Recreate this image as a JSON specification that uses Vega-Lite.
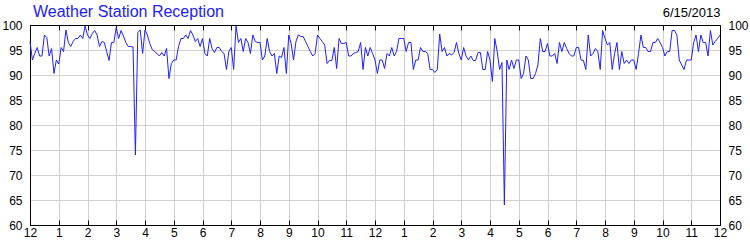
{
  "$schema": "https://vega.github.io/schema/vega-lite/v6.json",
  "width": 690,
  "height": 200,
  "autosize": {"type": "none"},
  "padding": {"left": 30, "top": 25, "right": 30, "bottom": 25},
  "background": "white",
  "config": {
    "view": {"stroke": "#000", "strokeWidth": 1},
    "axis": {"labelFont": "Liberation Sans", "labelFontSize": 12, "labelColor": "#000", "titleFont": "Liberation Sans", "domainColor": "#000", "tickColor": "#000", "gridColor": "#d0d0d0", "gridOpacity": 1}
  },
  "title": {"text": "Weather Station Reception", "anchor": "start", "frame": "group", "color": "#2020ff", "font": "Liberation Sans", "fontSize": 16, "fontWeight": "normal", "baseline": "alphabetic", "offset": 0, "dx": 3, "dy": 26},
  "data": {"values": [
{"m":0,"v":96.7},{"m":5,"v":93},{"m":10,"v":94.3},{"m":15,"v":95.5},{"m":20,"v":93.8},{"m":25,"v":93.8},{"m":30,"v":98},{"m":35,"v":97.5},{"m":40,"v":93.8},{"m":45,"v":95.3},{"m":50,"v":90.3},{"m":55,"v":93},{"m":60,"v":92.2},{"m":65,"v":95.5},{"m":70,"v":94.7},{"m":75,"v":99},{"m":80,"v":96.5},{"m":85,"v":95.7},{"m":90,"v":96.7},{"m":95,"v":97.3},{"m":100,"v":97.3},{"m":105,"v":98},{"m":110,"v":97.3},{"m":115,"v":99.8},{"m":120,"v":98},{"m":125,"v":97.3},{"m":130,"v":98.3},{"m":135,"v":98.9},{"m":140,"v":98},{"m":145,"v":95.7},{"m":150,"v":96.7},{"m":155,"v":96.5},{"m":160,"v":94.7},{"m":165,"v":92.9},{"m":170,"v":96.5},{"m":175,"v":96.5},{"m":180,"v":99.5},{"m":185,"v":97.3},{"m":190,"v":98.9},{"m":195,"v":97.8},{"m":200,"v":96.5},{"m":205,"v":95.7},{"m":210,"v":95.7},{"m":215,"v":95.6},{"m":220,"v":74},{"m":225,"v":98.5},{"m":230,"v":99},{"m":235,"v":94.3},{"m":240,"v":99},{"m":245,"v":98},{"m":250,"v":96.3},{"m":255,"v":95.1},{"m":260,"v":94.7},{"m":265,"v":94.3},{"m":270,"v":93.8},{"m":275,"v":94.5},{"m":280,"v":93.8},{"m":285,"v":95.3},{"m":290,"v":89.3},{"m":295,"v":92.3},{"m":300,"v":93},{"m":305,"v":93},{"m":310,"v":95.7},{"m":315,"v":97.3},{"m":320,"v":97.3},{"m":325,"v":98},{"m":330,"v":97.3},{"m":335,"v":98.9},{"m":340,"v":98},{"m":345,"v":96.7},{"m":350,"v":97.3},{"m":355,"v":95.7},{"m":360,"v":97.3},
{"m":365,"v":94.3},{"m":370,"v":93.8},{"m":375,"v":97.3},{"m":380,"v":95.3},{"m":385,"v":94.5},{"m":390,"v":95.5},{"m":395,"v":95.5},{"m":400,"v":94.7},{"m":405,"v":94.3},{"m":410,"v":91.1},{"m":415,"v":94.7},{"m":420,"v":95.5},{"m":425,"v":91.1},{"m":430,"v":99.8},{"m":435,"v":96.5},{"m":440,"v":97.3},{"m":445,"v":94.7},{"m":450,"v":97.3},{"m":455,"v":96.5},{"m":460,"v":94.3},{"m":465,"v":98},{"m":470,"v":96.7},{"m":475,"v":96.5},{"m":480,"v":96.5},{"m":485,"v":93},{"m":490,"v":93.8},{"m":495,"v":97.3},{"m":500,"v":94.7},{"m":505,"v":93.8},{"m":510,"v":94.3},{"m":515,"v":90.3},{"m":520,"v":93.8},{"m":525,"v":93.5},{"m":530,"v":95.5},{"m":535,"v":90.3},{"m":540,"v":98},{"m":545,"v":96.3},{"m":550,"v":93},{"m":555,"v":96.7},{"m":560,"v":98},{"m":565,"v":97.7},{"m":570,"v":97.7},{"m":575,"v":96.7},{"m":580,"v":95.7},{"m":585,"v":94.7},{"m":590,"v":93.8},{"m":595,"v":94.3},{"m":600,"v":98},{"m":605,"v":97.3},{"m":610,"v":96.7},{"m":615,"v":96},{"m":620,"v":92.3},{"m":625,"v":92.9},{"m":630,"v":92.9},{"m":635,"v":95.5},{"m":640,"v":91.3},{"m":645,"v":97.3},{"m":650,"v":96.3},{"m":655,"v":96.3},{"m":660,"v":96.5},{"m":665,"v":93.8},{"m":670,"v":93.8},{"m":675,"v":94.3},{"m":680,"v":94.5},{"m":685,"v":94.7},{"m":690,"v":96.5},{"m":695,"v":91.1},{"m":700,"v":95.5},{"m":705,"v":93.8},{"m":710,"v":95.5},{"m":715,"v":94.3},{"m":720,"v":93},
{"m":725,"v":90.3},{"m":730,"v":93},{"m":735,"v":93},{"m":740,"v":91.3},{"m":745,"v":94.3},{"m":750,"v":93.8},{"m":755,"v":95.5},{"m":760,"v":93.8},{"m":765,"v":94.7},{"m":770,"v":97.3},{"m":775,"v":97.3},{"m":780,"v":97.3},{"m":785,"v":94.7},{"m":790,"v":96.5},{"m":795,"v":96.5},{"m":800,"v":91.1},{"m":805,"v":93},{"m":810,"v":93},{"m":815,"v":95.5},{"m":820,"v":94.7},{"m":825,"v":94.7},{"m":830,"v":94.3},{"m":835,"v":91.1},{"m":840,"v":91.1},{"m":845,"v":90.5},{"m":850,"v":91.1},{"m":855,"v":98.2},{"m":860,"v":94.7},{"m":865,"v":95.5},{"m":870,"v":93.8},{"m":875,"v":94.3},{"m":880,"v":94},{"m":885,"v":94.5},{"m":890,"v":96.5},{"m":895,"v":94.3},{"m":900,"v":93},{"m":905,"v":95.5},{"m":910,"v":93.8},{"m":915,"v":93},{"m":920,"v":93.8},{"m":925,"v":92.9},{"m":930,"v":92.9},{"m":935,"v":94.5},{"m":940,"v":94.5},{"m":945,"v":91.1},{"m":950,"v":91.1},{"m":955,"v":94.7},{"m":960,"v":93},{"m":965,"v":88.7},{"m":970,"v":97.3},{"m":975,"v":94.7},{"m":980,"v":91.1},{"m":985,"v":92.5},{"m":990,"v":64},{"m":995,"v":93},{"m":1000,"v":91.1},{"m":1005,"v":93},{"m":1010,"v":91.3},{"m":1015,"v":93},{"m":1020,"v":93},{"m":1025,"v":89.3},{"m":1030,"v":90.3},{"m":1035,"v":93.8},{"m":1040,"v":93},{"m":1045,"v":89.3},{"m":1050,"v":89.3},{"m":1055,"v":90.3},{"m":1060,"v":92},{"m":1065,"v":97.3},{"m":1070,"v":94.7},{"m":1075,"v":94.7},{"m":1080,"v":96.3},
{"m":1085,"v":93.8},{"m":1090,"v":93.8},{"m":1095,"v":94.3},{"m":1100,"v":92.3},{"m":1105,"v":96.5},{"m":1110,"v":94.7},{"m":1115,"v":96.5},{"m":1120,"v":95.3},{"m":1125,"v":94.3},{"m":1130,"v":93.8},{"m":1135,"v":93.8},{"m":1140,"v":95.5},{"m":1145,"v":95.5},{"m":1150,"v":93},{"m":1155,"v":92.9},{"m":1160,"v":91.1},{"m":1165,"v":98},{"m":1170,"v":93.8},{"m":1175,"v":94.3},{"m":1180,"v":95.3},{"m":1185,"v":94.7},{"m":1190,"v":91.1},{"m":1195,"v":98.9},{"m":1200,"v":97.3},{"m":1205,"v":96},{"m":1210,"v":96.5},{"m":1215,"v":91.1},{"m":1220,"v":94.3},{"m":1225,"v":96.5},{"m":1230,"v":91.1},{"m":1235,"v":94.7},{"m":1240,"v":92.3},{"m":1245,"v":93},{"m":1250,"v":92.3},{"m":1255,"v":93},{"m":1260,"v":93},{"m":1265,"v":91.1},{"m":1270,"v":94.3},{"m":1275,"v":98},{"m":1280,"v":95.5},{"m":1285,"v":95.5},{"m":1290,"v":94.7},{"m":1295,"v":94.7},{"m":1300,"v":96.5},{"m":1305,"v":96.5},{"m":1310,"v":97.3},{"m":1315,"v":96.5},{"m":1320,"v":95.5},{"m":1325,"v":93.8},{"m":1330,"v":94.7},{"m":1335,"v":94.7},{"m":1340,"v":98.9},{"m":1345,"v":98.9},{"m":1350,"v":98},{"m":1355,"v":93},{"m":1360,"v":92},{"m":1365,"v":91.1},{"m":1370,"v":93},{"m":1375,"v":93},{"m":1380,"v":93},{"m":1385,"v":96.5},{"m":1390,"v":98},{"m":1395,"v":94.7},{"m":1400,"v":98},{"m":1405,"v":96.5},{"m":1410,"v":96.5},{"m":1415,"v":93.8},{"m":1420,"v":98.9},{"m":1425,"v":96},{"m":1430,"v":96.7},{"m":1435,"v":97.3},{"m":1440,"v":98}
  ]},
  "layer": [
    {
      "mark": {"type": "line", "color": "#2020ff", "strokeWidth": 1},
      "encoding": {
        "x": {"field": "m", "type": "quantitative", "scale": {"domain": [0, 1440], "nice": false, "zero": false},
          "axis": {"orient": "bottom", "title": null, "values": [0,60,120,180,240,300,360,420,480,540,600,660,720,780,840,900,960,1020,1080,1140,1200,1260,1320,1380,1440],
            "labelExpr": "datum.value % 720 == 0 ? '12' : format((datum.value / 60) % 12, 'd')",
            "grid": true, "ticks": true, "tickSize": -5, "labelPadding": 7, "labelFlush": false, "labelOverlap": false}},
        "y": {"field": "v", "type": "quantitative", "scale": {"domain": [60, 100], "nice": false, "zero": false},
          "axis": {"orient": "left", "title": null, "values": [60,65,70,75,80,85,90,95,100], "grid": true, "ticks": false, "tickSize": 0, "labelPadding": 8, "labelFlush": false, "labelOverlap": false}}
      }
    },
    {
      "mark": {"type": "line", "color": "#2020ff", "strokeWidth": 1, "opacity": 0},
      "encoding": {
        "x": {"field": "m", "type": "quantitative", "scale": {"domain": [0, 1440], "nice": false, "zero": false},
          "axis": {"orient": "top", "title": "6/15/2013", "titleAnchor": "end", "titleAlign": "right", "titleBaseline": "alphabetic", "titleFontSize": 13, "titleFontWeight": "normal", "titleColor": "#000", "titlePadding": 8,
            "values": [0,60,120,180,240,300,360,420,480,540,600,660,720,780,840,900,960,1020,1080,1140,1200,1260,1320,1380,1440],
            "labels": false, "grid": false, "ticks": true, "tickSize": -5}},
        "y": {"field": "v", "type": "quantitative", "scale": {"domain": [60, 100], "nice": false, "zero": false},
          "axis": {"orient": "right", "title": null, "values": [60,65,70,75,80,85,90,95,100], "grid": false, "ticks": false, "tickSize": 0, "labelPadding": 8, "labelFlush": false, "labelOverlap": false}}
      }
    }
  ],
  "resolve": {"scale": {"x": "independent", "y": "independent"}, "axis": {"x": "independent", "y": "independent"}}
}
